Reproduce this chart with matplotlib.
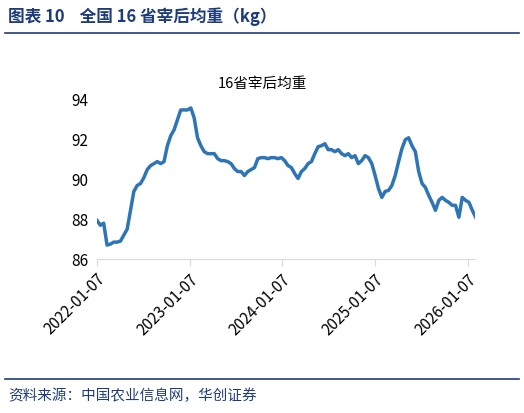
import matplotlib
matplotlib.use("Agg")
import matplotlib.pyplot as plt
import pandas as pd

plt.rcParams['font.family'] = ['Noto Sans CJK SC', 'DejaVu Sans']

values = [87.94, 87.7, 87.8, 86.7, 86.75, 86.85, 86.85, 86.9, 87.2, 87.5, 88.45, 89.4, 89.7, 89.8,
          90.1, 90.5, 90.7, 90.8, 90.9, 90.8, 90.9, 91.7, 92.2, 92.5, 93.0, 93.5, 93.5, 93.5, 93.6,
          93.1, 92.1, 91.7, 91.4, 91.3, 91.3, 91.3, 91.05, 90.95, 90.95, 90.9, 90.8, 90.55, 90.4,
          90.4, 90.2, 90.4, 90.5, 90.6, 91.05, 91.1, 91.1, 91.05, 91.1, 91.1, 91.05, 91.1, 90.95,
          90.7, 90.6, 90.3, 90.05, 90.4, 90.55, 90.8, 90.9, 91.3, 91.65, 91.7, 91.8, 91.5, 91.5,
          91.4, 91.5, 91.3, 91.2, 91.3, 91.1, 91.2, 90.8, 90.95, 91.2, 91.1, 90.8, 90.2, 89.55,
          89.1, 89.4, 89.45, 89.7, 90.2, 90.9, 91.55, 92.0, 92.1, 91.7, 91.4, 90.4, 89.8, 89.6,
          89.2, 88.85, 88.45, 88.95, 89.1, 88.95, 88.85, 88.7, 88.7, 88.1, 89.1, 88.95, 88.85,
          88.45, 88.1]
dates = pd.date_range('2022-01-07', periods=len(values), freq='317h')
tick_labels = ['2022-01-07', '2023-01-07', '2024-01-07', '2025-01-07', '2026-01-07']

fig = plt.figure(figsize=(5.24, 4.13), dpi=100)
navy = '#1F3C7A'
fig.text(8/524, 1-17/413, '图表 10    全国 16 省宰后均重（kg）', color=navy, fontsize=12,
         fontweight='bold', va='center', ha='left')
fig.add_artist(plt.Line2D([0.01, 0.99], [1-33/413]*2, color=navy, lw=1.2))
fig.add_artist(plt.Line2D([0.01, 0.99], [1-379/413]*2, color=navy, lw=1.2))
fig.text(8/524, 1-396/413, '资料来源：中国农业信息网，华创证券', color=navy, fontsize=10.5,
         style='italic', va='center', ha='left')
fig.text(262/524, 1-84/413, '16省宰后均重', fontsize=10.5, ha='center', va='center')

ax = fig.add_axes([97/524, 1-259/413, (475-97)/524, (259-100)/413])
ax.plot(dates, values, color='#2E75B6', lw=2.5)
ax.set_ylim(86, 94)
ax.set_yticks([86, 88, 90, 92, 94])
ticks = pd.to_datetime(tick_labels)
ax.set_xticks(ticks)
ax.set_xticklabels(tick_labels, rotation=45, ha='right', rotation_mode='anchor', fontsize=11)
ax.set_xlim(dates[0], pd.Timestamp('2026-02-05'))
for s in ['left', 'right', 'top']:
    ax.spines[s].set_visible(False)
ax.spines['bottom'].set_color('#D9D9D9')
ax.tick_params(axis='y', length=0, labelsize=11, pad=6)
ax.tick_params(axis='x', color='#D9D9D9', length=5)
fig.savefig('out.png', dpi=100)
